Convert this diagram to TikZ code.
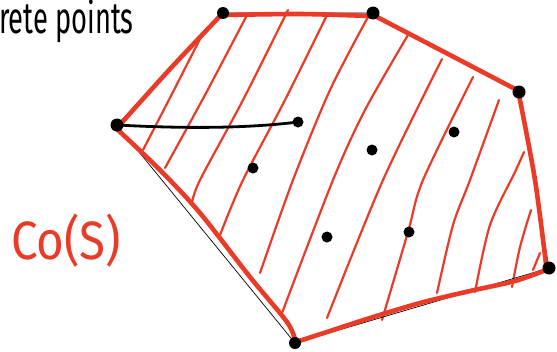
\documentclass[tikz,border=0pt]{standalone}
\usepackage{fontspec}
\setmainfont{Fira Sans}
\definecolor{sketchred}{RGB}{234,58,40}
\begin{document}
\begin{tikzpicture}[x=1pt,y=-1pt,
  hull/.style={draw=black,line width=0.7pt},
  redout/.style={draw=sketchred,line width=4.6pt,line cap=round,line join=round},
  hatch/.style={draw=sketchred,line width=2.2pt,line cap=round},
  vdot/.style={circle,fill=black,inner sep=0pt,minimum size=13pt},
  pdot/.style={circle,fill=black,inner sep=0pt,minimum size=11pt},
  handtext/.style={inner sep=0pt,anchor=base west}]
\useasboundingbox (0,0) rectangle (557,351);
% vertices
\coordinate (A) at (117,125);
\coordinate (B) at (223,13);
\coordinate (C) at (373,13);
\coordinate (D) at (519,92);
\coordinate (E) at (549,268);
\coordinate (F) at (295,343);
% hatching
\draw[hatch] plot[smooth] coordinates {(203,33) (174,90) (143,150)};
\draw[hatch] plot[smooth] coordinates {(246,17) (205,95) (165,168)};
\draw[hatch] plot[smooth] coordinates {(288,10) (243,100) (200,180) (192,203)};
\draw[hatch] plot[smooth] coordinates {(327,15) (285,100) (243,180) (220,235)};
\draw[hatch] plot[smooth] coordinates {(368,17) (330,90) (293,180) (260,273)};
\draw[hatch] plot[smooth] coordinates {(408,35) (365,110) (333,180) (282,313)};
\draw[hatch] plot[smooth] coordinates {(442,59) (383,180) (327,318)};
\draw[hatch] plot[smooth] coordinates {(473,77) (423,180) (408,232) (382,320)};
\draw[hatch] plot[smooth] coordinates {(499,100) (470,180) (453,225) (437,293)};
\draw[hatch] plot[smooth] coordinates {(524,152) (515,172) (490,225) (475,292)};
\draw[hatch] plot[smooth] coordinates {(531,210) (520,247) (512,287)};
\draw[hatch] plot[smooth] coordinates {(540,253) (533,270)};
% thin hull
\draw[hull] (A) -- (B) -- (C) -- (D) -- (E) -- (F) -- cycle;
% red outline
\draw[redout] plot[smooth] coordinates {(117,128) (170,69) (222,14)};
\draw[redout] plot[smooth] coordinates {(226,15) (300,14) (370,16)};
\draw[redout] plot[smooth] coordinates {(375,16) (450,55) (517,90)};
\draw[redout] plot[smooth] coordinates {(519,95) (535,180) (546,264)};
\draw[redout] plot[smooth] coordinates {(546,270) (515,281) (470,291) (420,303) (370,318) (330,331) (296,342)};
\draw[redout] plot[smooth] coordinates {(118,130) (160,170) (200,213) (250,277) (287,322) (295,340)};
% interior points
\node[pdot] (P1) at (298,122) {};
\node[pdot] (P2) at (253,168) {};
\node[pdot] (P3) at (372,150) {};
\node[pdot] (P4) at (454,132) {};
\node[pdot] (P5) at (327,237) {};
\node[pdot] (P6) at (409,232) {};
% black segment
\draw[black,line width=2.8pt,line cap=round] (A) .. controls (190,129) and (250,128) .. (P1.center);
% vertex points
\node[vdot] (vA) at (A) {};
\node[vdot,minimum size=12pt] (vB) at (B) {};
\node[vdot] (vC) at (C) {};
\node[vdot] (vD) at (D) {};
\node[vdot] (vE) at (E) {};
\node[vdot,minimum size=12pt] (vF) at (F) {};
% labels
\node[handtext,font=\fontsize{44}{44}\selectfont,xscale=0.62] (lbl) at (-1,33) {rete points};
\node[handtext,text=sketchred,font=\fontsize{54}{54}\selectfont,xscale=0.88] (co) at (11,259) {Co(S)};
\end{tikzpicture}
\end{document}
